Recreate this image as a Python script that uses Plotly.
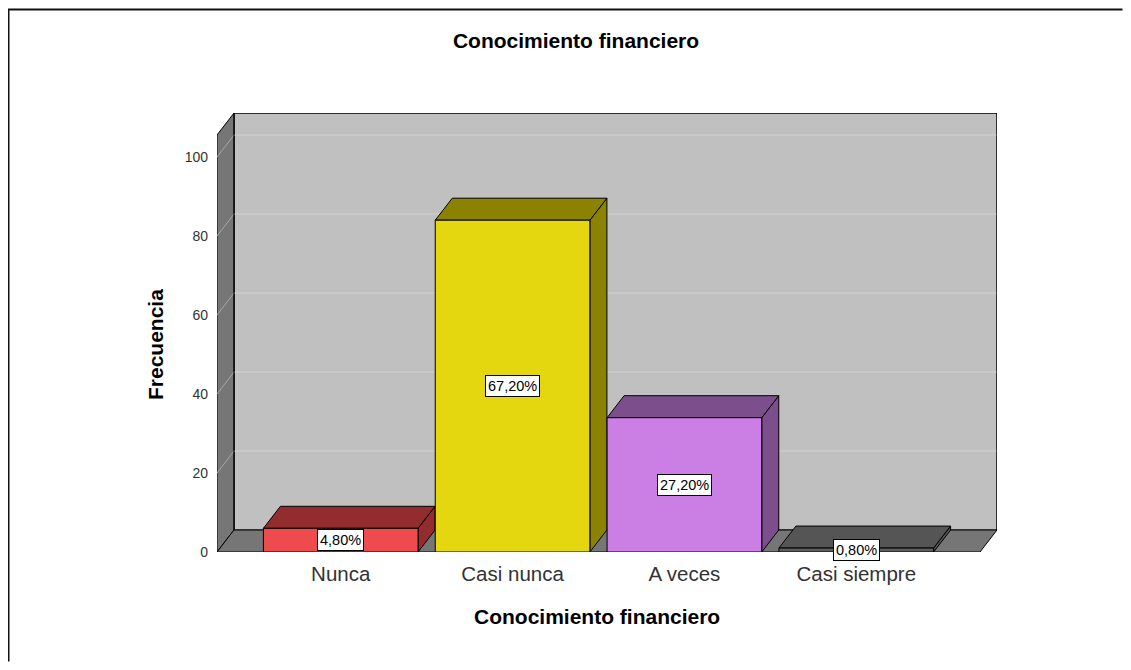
import plotly.graph_objects as go

# ---- data ----
categories = ["Nunca", "Casi nunca", "A veces", "Casi siempre"]
counts = [6, 84, 34, 1]
front_colors = ["#EE4B4F", "#E4D70F", "#CB7FE4", "#5E5E5E"]
shade_colors = ["#922C2E", "#8B8300", "#7C4E8C", "#555555"]
y_ticks = [0, 20, 40, 60, 80, 100]

# ---- pseudo-3D geometry (styling) ----
X0, X1 = -0.72, 3.72      # front floor edge, in category units
DX, DY = 0.099, 5.57      # depth offset (x in category units, y in value units)
YTOP = 105.57             # front top of the frame
BAR_W = 0.9
FONT = "Liberation Sans, Arial, sans-serif"

# page body has an 8px margin: figure sits at (8, 8) in the window
OFF = 8

fig = go.Figure()


def poly(xs, ys, fill, line="black", lw=1):
    fig.add_trace(go.Scatter(
        x=list(xs) + [xs[0]], y=list(ys) + [ys[0]], mode="lines",
        fill="toself", fillcolor=fill, line=dict(color=line, width=lw),
        hoverinfo="skip", showlegend=False))


def seg(xs, ys, color, lw=1):
    fig.add_trace(go.Scatter(x=xs, y=ys, mode="lines",
                             line=dict(color=color, width=lw),
                             hoverinfo="skip", showlegend=False))


# back wall
poly([X0 + DX, X1 + DX, X1 + DX, X0 + DX], [DY, DY, YTOP + DY, YTOP + DY], "#C0C0C0")
# left wall
poly([X0, X0 + DX, X0 + DX, X0], [0, DY, YTOP + DY, YTOP], "#767676")
# floor
poly([X0, X1, X1 + DX, X0 + DX], [0, 0, DY, DY], "#767676")

# gridlines
for v in y_ticks[1:]:
    seg([X0 + DX, X1 + DX], [v + DY, v + DY], "#D2D2D2")
    seg([X0, X0 + DX], [v, v + DY], "#A8A8A8")
seg([X0 + DX, X1 + DX, X1 + DX], [YTOP + DY, YTOP + DY, DY], "black")
seg([X0 + DX, X0 + DX], [DY, YTOP + DY], "black")

# bars
total = sum(counts)
for i, (v, fc, sc) in enumerate(zip(counts, front_colors, shade_colors)):
    xl, xr = i - BAR_W / 2, i + BAR_W / 2
    poly([xr, xr + DX, xr + DX, xr], [0, DY, v + DY, v], sc)          # side
    poly([xl, xr, xr + DX, xl + DX], [v, v, v + DY, v + DY], sc)      # top
    poly([xl, xr, xr, xl], [0, 0, v, v], fc)                          # front

annotations = []
for i, v in enumerate(counts):
    pct = v / total * 100
    annotations.append(dict(
        x=i, y=v / 2, xref="x", yref="y", showarrow=False,
        text=f"{pct:.2f}".replace(".", ",") + "%",
        font=dict(family=FONT, size=14.5, color="black"),
        bgcolor="white", bordercolor="black", borderwidth=1, borderpad=2))

W, H = 1131 - 2 * OFF, 670 - 2 * OFF
L, R, T, B = 217 - OFF, W - (997 - OFF), 113 - OFF, H - (552 - OFF)
pw, ph = W - L - R, H - T - B


def px_x(px):  # window pixel -> paper x
    return (px - OFF - L) / pw


def px_y(py):  # window pixel -> paper y
    return (H - B - (py - OFF)) / ph


annotations.append(dict(text="<b>Conocimiento financiero</b>", x=px_x(597), y=px_y(616),
                        xref="paper", yref="paper", showarrow=False,
                        xanchor="center", yanchor="middle",
                        font=dict(family=FONT, size=21, color="black")))
annotations.append(dict(text="<b>Frecuencia</b>", x=px_x(155), y=px_y(345),
                        xref="paper", yref="paper", showarrow=False, textangle=-90,
                        xanchor="center", yanchor="middle",
                        font=dict(family=FONT, size=21, color="black")))

# outer frame: left and top edges only (as in the reference)
bx, by = px_x(8.5), px_y(9.5)
ex, ey = px_x(OFF + W - 0.5), px_y(OFF + H - 0.5)
shapes = [
    dict(type="path", xref="paper", yref="paper",
         path=f"M {bx},{ey} L {bx},{by} L {ex},{by}",
         fillcolor="rgba(0,0,0,0)", line=dict(color="#111111", width=2)),
]

fig.update_layout(
    width=W, height=H, autosize=False,
    margin=dict(l=L, r=R, t=T, b=B),
    paper_bgcolor="white", plot_bgcolor="white",
    title=dict(text="<b>Conocimiento financiero</b>", x=px_x(576), xref="paper",
               xanchor="center", y=1 - (41 - OFF) / H, yref="container", yanchor="middle",
               font=dict(family=FONT, size=21, color="black")),
    xaxis=dict(range=[X0, X1 + DX], tickvals=list(range(len(categories))),
               ticktext=categories, showgrid=False, zeroline=False, showline=False,
               ticks="", ticklabelstandoff=7,
               tickfont=dict(family=FONT, size=20.5, color="#333333"),
               fixedrange=True),
    yaxis=dict(range=[0, YTOP + DY], tickvals=y_ticks, showgrid=False,
               zeroline=False, showline=False, ticks="", ticklabelstandoff=8,
               tickfont=dict(family=FONT, size=14, color="#333333"), fixedrange=True),
    annotations=annotations, shapes=shapes, showlegend=False,
)

fig.write_html("out.html")
